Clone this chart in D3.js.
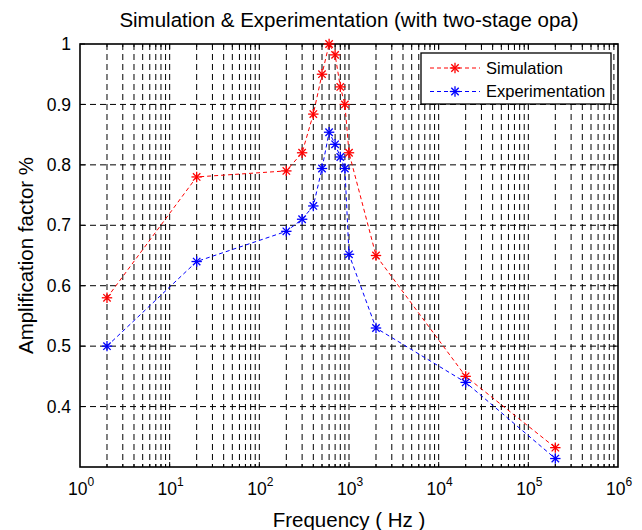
<!DOCTYPE html>
<html><head><meta charset="utf-8">
<script src="https://cdn.jsdelivr.net/npm/d3@7"></script>
<style>body{margin:0;background:#fff}svg{display:block}text{font-family:"Liberation Sans",Arial,Helvetica,sans-serif}</style>
</head><body>
<svg id="chart" width="642" height="530"></svg>
<script>
const freqs = [2, 20, 200, 300, 400, 500, 600, 700, 800, 900, 1000, 2000, 20000, 200000];
const simulation = [0.58, 0.78, 0.79, 0.82, 0.884, 0.95, 1.0, 0.982, 0.929, 0.90, 0.82, 0.65, 0.45, 0.332];
const experimentation = [0.50, 0.64, 0.69, 0.71, 0.732, 0.794, 0.854, 0.834, 0.813, 0.794, 0.652, 0.53, 0.44, 0.314];
const seriesNames = ["Simulation", "Experimentation"];
const seriesColors = ["#ff0000", "#0000ff"];
const yTicks = [0.4, 0.5, 0.6, 0.7, 0.8, 0.9, 1];
const xDecades = [0, 1, 2, 3, 4, 5, 6];

const svg = d3.select("#chart");
const L = 80, R = 618, T = 44, B = 467;
const x = d3.scaleLog().domain([1, 1e6]).range([L, R]);
const y = d3.scaleLinear().domain([0.3, 1]).range([B, T]);

// minor/major vertical grid
const gridX = [];
for (let d = 0; d < 6; d++) for (let m = 1; m <= 9; m++) { const v = m * Math.pow(10, d); if (v > 1) gridX.push(v); }
const g = svg.append("g");
g.selectAll("line.vg").data(gridX).join("line")
  .attr("x1", d => x(d)).attr("x2", d => x(d)).attr("y1", T).attr("y2", B)
  .attr("stroke", "#000").attr("stroke-width", 1).attr("stroke-dasharray", "6,4");
g.selectAll("line.hg").data(yTicks.filter(v => v < 1)).join("line")
  .attr("x1", L).attr("x2", R).attr("y1", d => y(d)).attr("y2", d => y(d))
  .attr("stroke", "#000").attr("stroke-width", 1).attr("stroke-dasharray", "6,4");

// ticks (inward) on all four sides
const tk = svg.append("g").attr("stroke", "#000").attr("stroke-width", 1);
gridX.forEach(v => {
  const major = Number.isInteger(Math.log10(v));
  const len = major ? 5 : 3;
  tk.append("line").attr("x1", x(v)).attr("x2", x(v)).attr("y1", B).attr("y2", B - len);
  tk.append("line").attr("x1", x(v)).attr("x2", x(v)).attr("y1", T).attr("y2", T + len);
});
yTicks.forEach(v => {
  tk.append("line").attr("x1", L).attr("x2", L + 5).attr("y1", y(v)).attr("y2", y(v));
  tk.append("line").attr("x1", R).attr("x2", R - 5).attr("y1", y(v)).attr("y2", y(v));
});
svg.append("rect").attr("x", L).attr("y", T).attr("width", R - L).attr("height", B - T)
  .attr("fill", "none").attr("stroke", "#000").attr("stroke-width", 1.6);

// y tick labels
svg.append("g").selectAll("text").data(yTicks).join("text")
  .attr("x", L - 9).attr("y", d => y(d)).attr("dy", "0.35em")
  .attr("text-anchor", "end").attr("font-size", 17.5).text(d => d === 1 ? "1" : d.toFixed(1));

// x tick labels 10^n
const xl = svg.append("g").selectAll("text").data(xDecades).join("text")
  .attr("x", d => x(Math.pow(10, d)) + 1).attr("y", 495).attr("text-anchor", "middle").attr("font-size", 17.5);
xl.append("tspan").text("10");
xl.append("tspan").attr("dy", -9).attr("font-size", 12).text(d => d);

// lines and markers
const line = d3.line().x(d => x(d[0])).y(d => y(d[1]));
function star(sel, cx, cy, color) {
  const r = 5.2, r2 = 3.7;
  const gg = sel.append("g").attr("stroke", color).attr("stroke-width", 1.3);
  gg.append("line").attr("x1", cx - r).attr("x2", cx + r).attr("y1", cy).attr("y2", cy);
  gg.append("line").attr("x1", cx).attr("x2", cx).attr("y1", cy - r).attr("y2", cy + r);
  gg.append("line").attr("x1", cx - r2).attr("x2", cx + r2).attr("y1", cy - r2).attr("y2", cy + r2);
  gg.append("line").attr("x1", cx - r2).attr("x2", cx + r2).attr("y1", cy + r2).attr("y2", cy - r2);
}
[simulation, experimentation].forEach((vals, i) => {
  const pts = freqs.map((f, j) => [f, vals[j]]);
  svg.append("path").attr("d", line(pts)).attr("fill", "none")
    .attr("stroke", seriesColors[i]).attr("stroke-width", 1).attr("stroke-dasharray", "4,3");
  pts.forEach(p => star(svg, x(p[0]), y(p[1]), seriesColors[i]));
});

// legend
const lg = svg.append("g");
lg.append("rect").attr("x", 421).attr("y", 53).attr("width", 190).attr("height", 51)
  .attr("fill", "#fff").attr("stroke", "#000").attr("stroke-width", 1.3);
seriesNames.forEach((n, i) => {
  const ly = 68 + i * 23.5;
  lg.append("line").attr("x1", 430).attr("x2", 480).attr("y1", ly).attr("y2", ly)
    .attr("stroke", seriesColors[i]).attr("stroke-dasharray", "4,3");
  star(lg, 455, ly, seriesColors[i]);
  lg.append("text").attr("x", 486).attr("y", ly).attr("dy", "0.35em").attr("font-size", 16.5).text(n);
});

// titles
svg.append("text").attr("x", (L + R) / 2).attr("y", 27).attr("text-anchor", "middle")
  .attr("font-size", 20.5).text("Simulation & Experimentation (with two-stage opa)");
svg.append("text").attr("x", (L + R) / 2).attr("y", 527).attr("text-anchor", "middle")
  .attr("font-size", 20.5).text("Frequency ( Hz )");
svg.append("text").attr("transform", `translate(33,${(T + B) / 2}) rotate(-90)`).attr("text-anchor", "middle")
  .attr("font-size", 20.5).text("Amplification factor %");
</script>
</body></html>
